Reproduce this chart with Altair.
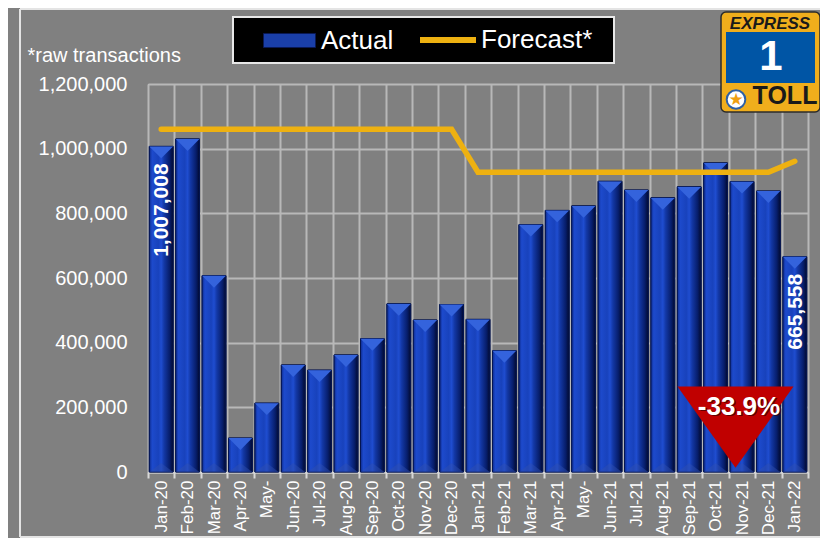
import altair as alt
import pandas as pd

# ---------------- data ----------------
months = ["Jan-20", "Feb-20", "Mar-20", "Apr-20", "May-20", "Jun-20", "Jul-20", "Aug-20",
          "Sep-20", "Oct-20", "Nov-20", "Dec-20", "Jan-21", "Feb-21", "Mar-21", "Apr-21",
          "May-21", "Jun-21", "Jul-21", "Aug-21", "Sep-21", "Oct-21", "Nov-21", "Dec-21", "Jan-22"]
actual = [1007008, 1030000, 607000, 105000, 213000, 331000, 315000, 362000,
          412000, 520000, 470000, 518000, 472000, 375000, 765000, 809000,
          823000, 899000, 872000, 848000, 882000, 956000, 898000, 869000, 665558]
forecast = [1060000, 1060000, 1060000, 1060000, 1060000, 1060000, 1060000, 1060000,
            1060000, 1060000, 1060000, 1060000, 927000, 927000, 927000, 927000,
            927000, 927000, 927000, 927000, 927000, 927000, 927000, 927000, 961000]
labelled_months = ["Jan-20", "Jan-22"]
y_ticks = [0, 200000, 400000, 600000, 800000, 1000000, 1200000]

change_month = ["Nov-21"]
change_text = ["-33.9%"]
change_marker_value = [138600]
change_text_value = [202000]

df = pd.DataFrame({"month": months, "actual": actual, "forecast": forecast})
df_change = pd.DataFrame({"month": change_month, "tri": change_marker_value,
                          "lbl": change_text_value, "text": change_text})
one = pd.DataFrame({"k": [0]})

FONT = "Liberation Sans"
GRID = "#b8b8b8"

x_enc = alt.X(
    "month:N", sort=months, title=None,
    scale=alt.Scale(paddingInner=0, paddingOuter=0),
    axis=alt.Axis(
        labelAngle=270, labelAlign="right", labelBaseline="middle",
        labelFontSize=17, labelColor="white", labelFont=FONT, labelPadding=2,
        labelExpr="indexof(datum.label, 'May') == 0 ? 'May-' : datum.label",
        tickBand="extent", ticks=True, tickSize=6, tickColor="#d8d8d8", tickWidth=2,
        domain=True, domainColor="#d8d8d8", domainWidth=2,
        grid=True, gridColor=GRID, gridWidth=2,
    ),
)
y_axis = alt.Axis(
    values=y_ticks, format=",.0f", labelFontSize=20, labelColor="white", labelFont=FONT,
    labelPadding=21, ticks=False, domain=False, grid=True, gridColor=GRID, gridWidth=2,
    title="*raw transactions", titleAngle=0, titleAlign="left", titleBaseline="alphabetic",
    titleX=-121, titleY=-23, titleFontSize=20, titleFontWeight="normal",
    titleColor="white", titleFont=FONT,
)
y_scale = alt.Scale(domain=[0, 1200000], nice=False)


def y_enc(field):
    return alt.Y(field, scale=y_scale, axis=y_axis)


base = alt.Chart(df)

bar_grad = alt.LinearGradient(
    gradient="linear", x1=0, x2=1, y1=0, y2=0,
    stops=[
        alt.GradientStop(offset=0, color="#0e2c90"),
        alt.GradientStop(offset=0.12, color="#1d4acc"),
        alt.GradientStop(offset=0.38, color="#1842bc"),
        alt.GradientStop(offset=0.5, color="#1f4dd0"),
        alt.GradientStop(offset=0.62, color="#1338a6"),
        alt.GradientStop(offset=0.85, color="#071e6c"),
        alt.GradientStop(offset=1, color="#020a30"),
    ],
)

# frame (decoration) as rules so nothing overflows the canvas
frame_left = alt.Chart(one).mark_rule(color="#e4e4e4", strokeWidth=2).encode(
    x=alt.value(-128), y=alt.value(-75), y2=alt.value(453))
frame_top = alt.Chart(one).mark_rule(color="#e4e4e4", strokeWidth=2).encode(
    x=alt.value(-128), x2=alt.value(672), y=alt.value(-75))
frame_bottom = alt.Chart(one).mark_rule(color="#e4e4e4", strokeWidth=2).encode(
    x=alt.value(-128), x2=alt.value(672), y=alt.value(453))
legend_box = alt.Chart(one).mark_rect(color="black", stroke="#e8e8e8", strokeWidth=2).encode(
    x=alt.value(85), x2=alt.value(466), y=alt.value(-67), y2=alt.value(-21))

bars_solid = base.transform_calculate(series="'Actual'").mark_bar(
    width=alt.RelativeBandSize(0.9), stroke="#061650", strokeWidth=1).encode(
    x=x_enc, y=y_enc("actual:Q"),
    fill=alt.Fill("series:N", scale=alt.Scale(domain=["Actual"], range=["#1a3fa8"]),
                  legend=alt.Legend(title=None, orient="none", legendX=115, legendY=-70,
                                    symbolType="M-1,-0.27L1,-0.27L1,0.27L-1,0.27Z",
                                    symbolSize=2704, symbolStrokeWidth=1,
                                    symbolStrokeColor="#0a1a55", labelOffset=5,
                                    labelFontSize=26, labelColor="white", labelFont=FONT,
                                    padding=0)),
)
bars_grad = base.mark_bar(width=alt.RelativeBandSize(0.9), color=bar_grad,
                          stroke="#061650", strokeWidth=1).encode(
    x=x_enc, y=y_enc("actual:Q"))
bevel_top = base.mark_point(shape="M-1,-0.5L1,-0.5L0,0.5Z", size=564, filled=True,
                            color="#3463dc", opacity=1, strokeWidth=0, yOffset=6).encode(
    x=x_enc, y=y_enc("actual:Q"))
bevel_bottom = base.transform_calculate(zero="0").mark_point(
    shape="M-1,0.38L1,0.38L0,-0.38Z", size=564, filled=True,
    color="#3050b0", opacity=0.45, strokeWidth=0, yOffset=-4.5).encode(
    x=x_enc, y=y_enc("zero:Q"))

line = base.transform_calculate(fseries="'Forecast*'").mark_line(
    strokeWidth=5.5, strokeCap="round").encode(
    x=x_enc, y=y_enc("forecast:Q"),
    stroke=alt.Stroke("fseries:N", scale=alt.Scale(domain=["Forecast*"], range=["#EEB111"]),
                      legend=alt.Legend(title=None, orient="none", legendX=269, legendY=-75,
                                        symbolType="stroke", symbolSize=3136,
                                        symbolStrokeWidth=6, labelOffset=2,
                                        labelFontSize=26, labelColor="white",
                                        labelFont=FONT, padding=0)),
)

bar_labels = base.transform_filter(
    alt.FieldOneOfPredicate(field="month", oneOf=labelled_months)).mark_text(
    angle=270, align="right", baseline="middle", dx=-17, dy=1, fontSize=21,
    fontWeight="bold", color="white", font=FONT).encode(
    x=x_enc, y=y_enc("actual:Q"), text=alt.Text("actual:Q", format=","))

chg = alt.Chart(df_change)
triangle = chg.mark_point(shape="M-1,-0.7L1,-0.7L0,0.7Z", size=13456, filled=True,
                          color="#C00000", opacity=1, strokeWidth=0, xOffset=-6.5).encode(
    x=x_enc, y=y_enc("tri:Q"))
tri_shadow = chg.mark_text(fontSize=26, fontWeight="bold", color="#3a0000", opacity=0.7,
                           font=FONT, baseline="middle", xOffset=-1.5, yOffset=1.5).encode(
    x=x_enc, y=y_enc("lbl:Q"), text="text:N")
tri_text = chg.mark_text(fontSize=26, fontWeight="bold", color="white", font=FONT,
                         baseline="middle", xOffset=-3).encode(
    x=x_enc, y=y_enc("lbl:Q"), text="text:N")

# logo (decoration)
logo_bg = alt.Chart(one).mark_rect(color="#F0AE1C", stroke="#2b2b2b", strokeWidth=1.5,
                                   cornerRadius=5).encode(
    x=alt.value(573), x2=alt.value(672), y=alt.value(-72), y2=alt.value(28))
logo_blue = alt.Chart(one).mark_rect(color="#0055A5").encode(
    x=alt.value(578), x2=alt.value(667), y=alt.value(-52), y2=alt.value(-1))
logo_express = alt.Chart(one).mark_text(text="EXPRESS", font=FONT, fontSize=17,
                                        fontStyle="italic", fontWeight="bold",
                                        color="#1a1a1a", align="center",
                                        baseline="alphabetic").encode(
    x=alt.value(622), y=alt.value(-55))
logo_one = alt.Chart(one).mark_text(text="1", font=FONT, fontSize=42, fontWeight="bold",
                                    color="white", align="center",
                                    baseline="alphabetic").encode(
    x=alt.value(623), y=alt.value(-14))
logo_toll = alt.Chart(one).mark_text(text="TOLL", font=FONT, fontSize=25, fontWeight="bold",
                                     color="#1a1a1a", align="center",
                                     baseline="alphabetic").encode(
    x=alt.value(637), y=alt.value(20))
logo_circle = alt.Chart(one).mark_point(shape="circle", size=346, filled=True, fill="white",
                                        stroke="#2d5fa5", strokeWidth=2, opacity=1).encode(
    x=alt.value(588), y=alt.value(15.5))
logo_star = alt.Chart(one).mark_text(text="★", fontSize=17, color="#F0A010",
                                     align="center", baseline="middle",
                                     font="DejaVu Sans").encode(
    x=alt.value(588), y=alt.value(15.5))

chart = alt.layer(
    frame_left, frame_top, frame_bottom, legend_box, bars_solid, bars_grad, bevel_top,
    bevel_bottom, line, bar_labels, triangle, tri_shadow, tri_text,
    logo_bg, logo_blue, logo_express, logo_one, logo_toll, logo_circle, logo_star,
).resolve_legend(fill="independent", stroke="independent").properties(
    width=660, height=388,
    padding={"left": 140, "top": 76, "right": 12, "bottom": 66},
    autosize=alt.AutoSizeParams(type="none"),
    background="#808080",
).configure_view(stroke=None).configure(font=FONT)

chart.save("out.html", embed_options={"renderer": "svg", "actions": False})
